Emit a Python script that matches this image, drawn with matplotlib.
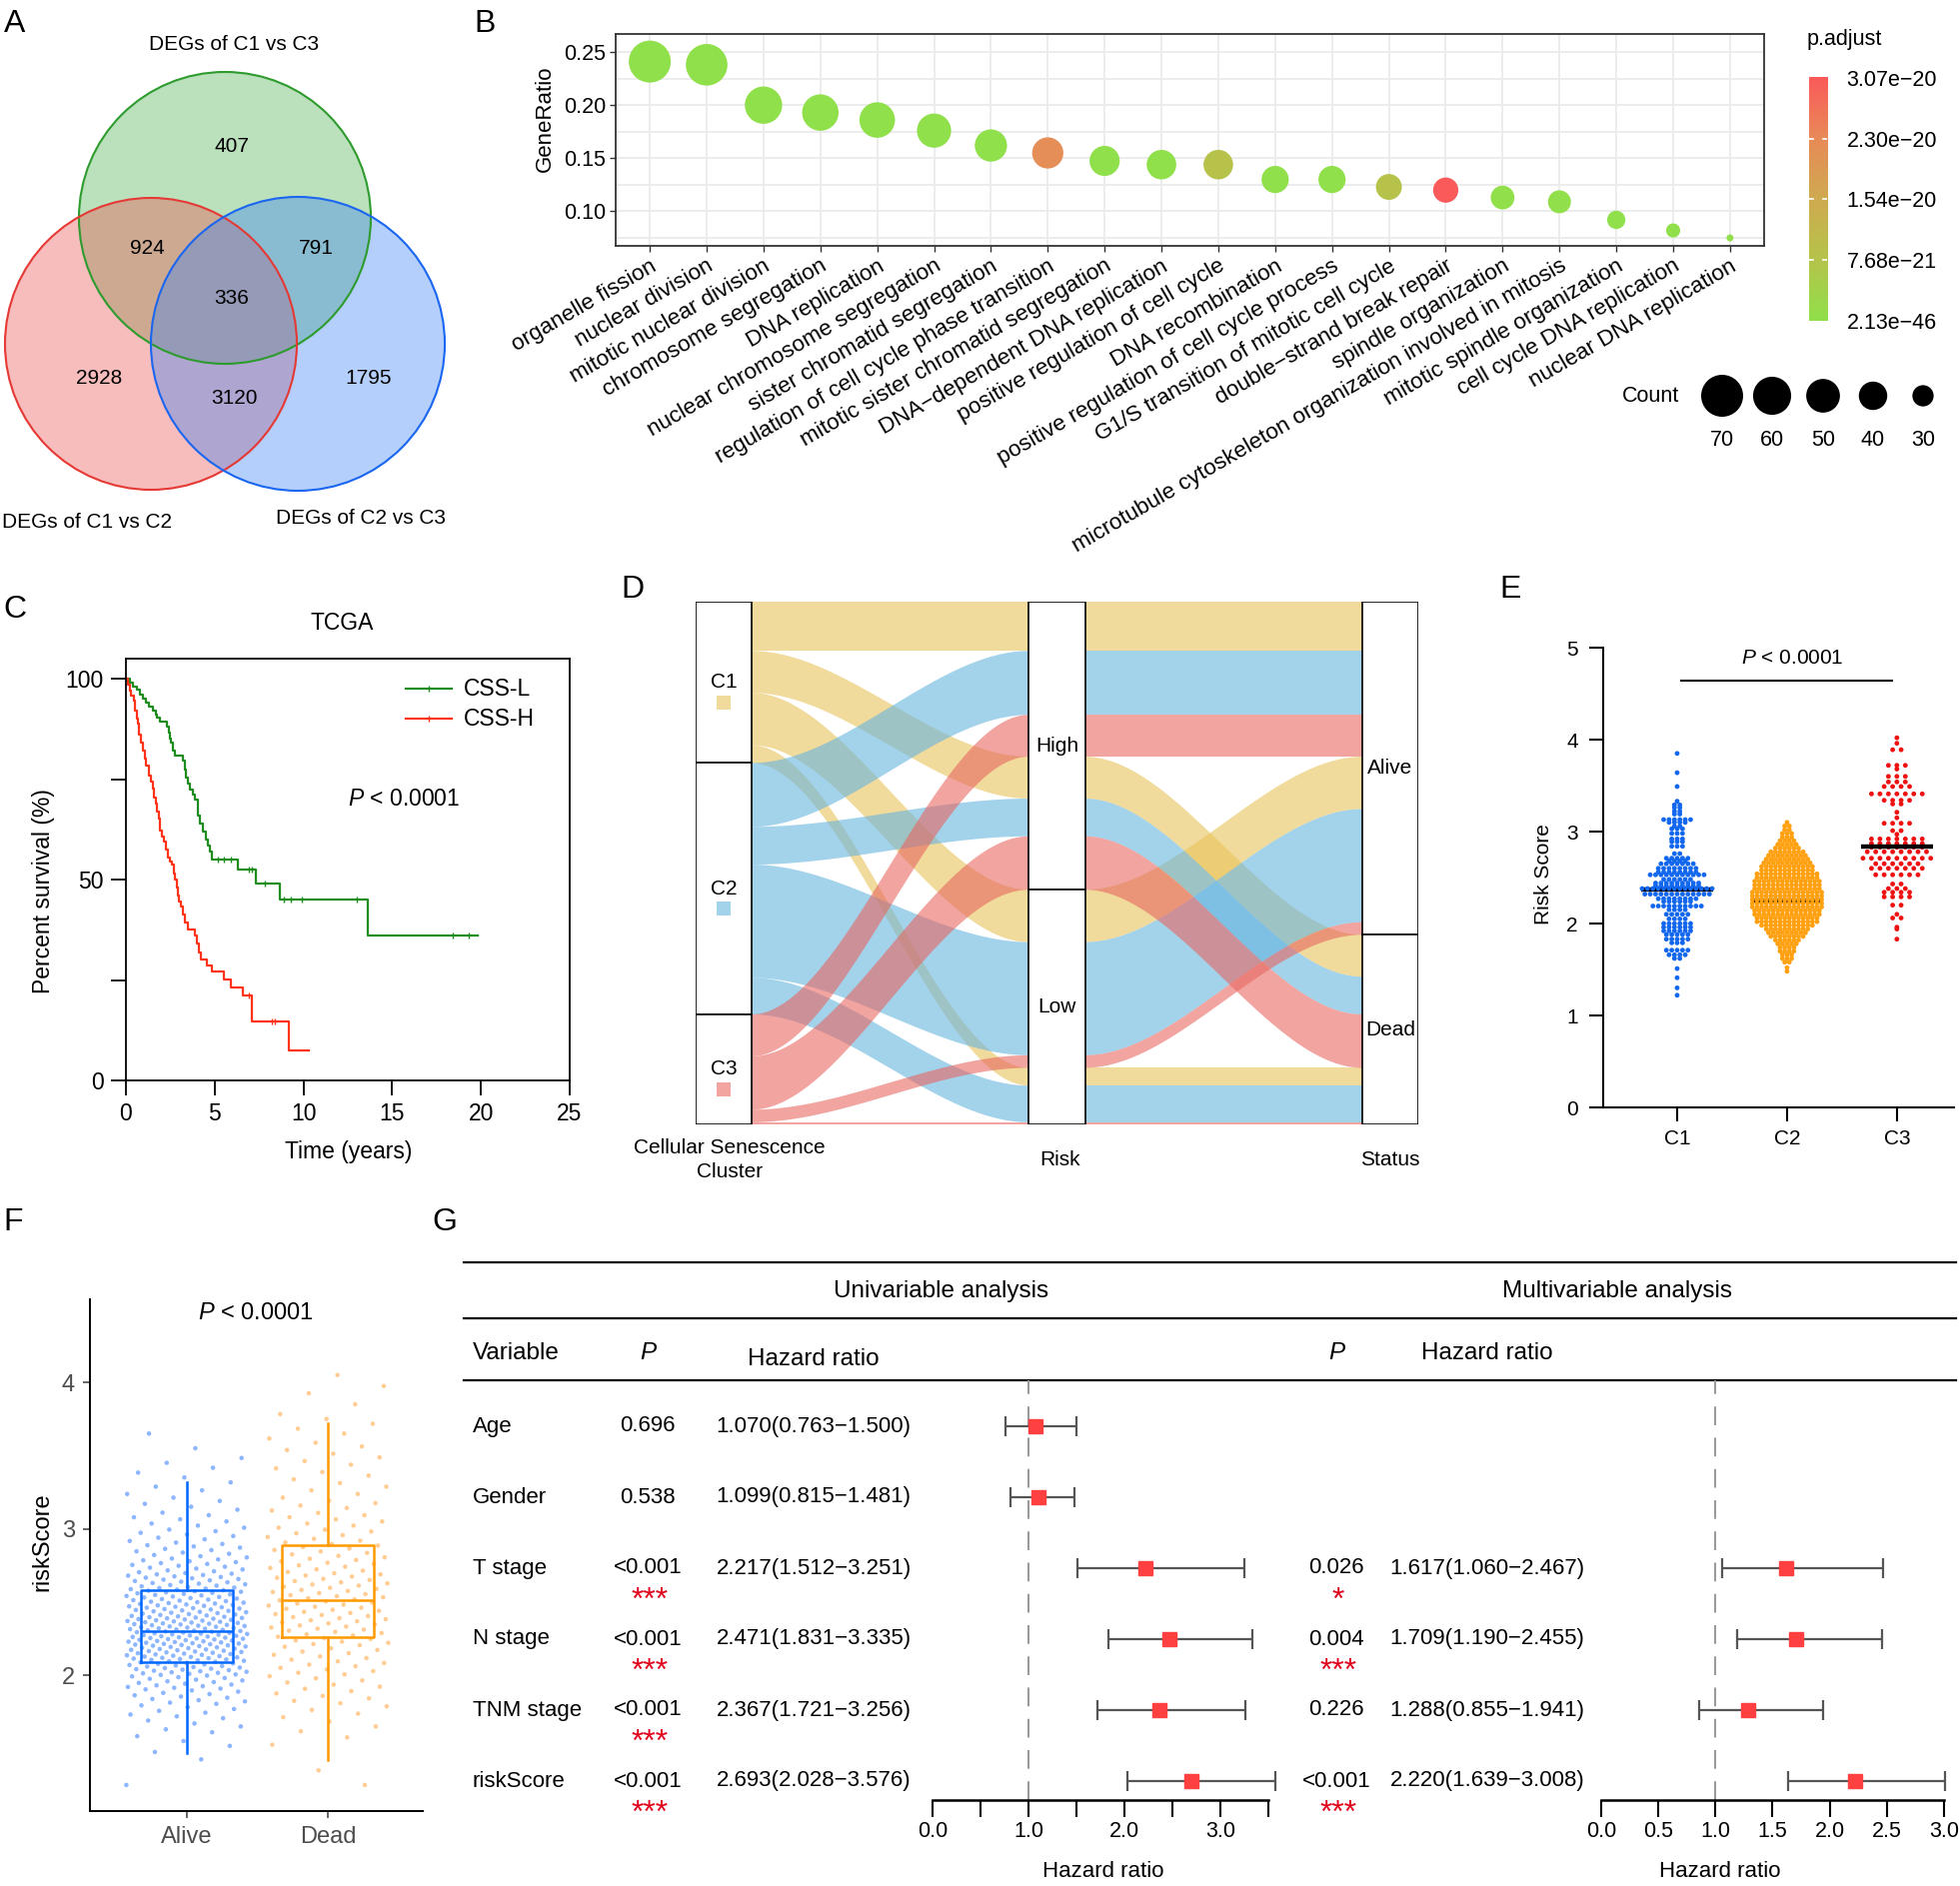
import numpy as np
import matplotlib
matplotlib.use("Agg")
import matplotlib.pyplot as plt
from matplotlib.patches import Circle, Rectangle, Polygon
from matplotlib.colors import LinearSegmentedColormap, Normalize

W, H = 1961, 1887
plt.rcParams["font.family"] = ["Liberation Sans", "DejaVu Sans"]
plt.rcParams["mathtext.fontset"] = "custom"
plt.rcParams["mathtext.rm"] = "Liberation Sans"
plt.rcParams["mathtext.it"] = "Liberation Sans:italic"
MINUS = "\u2212"

# ======================= DATA =======================
# A: Venn
venn_titles = ["DEGs of C1 vs C3", "DEGs of C1 vs C2", "DEGs of C2 vs C3"]
# regions: C13 only, C13&C12, C13&C23, all three, C12 only, C12&C23, C23 only
venn_counts = [407, 924, 791, 336, 2928, 3120, 1795]

# B: GO dot plot
go_terms = ["organelle fission", "nuclear division", "mitotic nuclear division",
            "chromosome segregation", "DNA replication", "nuclear chromosome segregation",
            "sister chromatid segregation", "regulation of cell cycle phase transition",
            "mitotic sister chromatid segregation", "DNA" + MINUS + "dependent DNA replication",
            "positive regulation of cell cycle", "DNA recombination",
            "positive regulation of cell cycle process", "G1/S transition of mitotic cell cycle",
            "double" + MINUS + "strand break repair", "spindle organization",
            "microtubule cytoskeleton organization involved in mitosis",
            "mitotic spindle organization", "cell cycle DNA replication", "nuclear DNA replication"]
go_ratio = [0.241, 0.238, 0.200, 0.193, 0.186, 0.176, 0.162, 0.155, 0.1475, 0.144,
            0.144, 0.130, 0.130, 0.123, 0.120, 0.113, 0.109, 0.092, 0.082, 0.075]
go_count = [70, 69, 58, 56, 54, 51, 47, 45, 43, 42, 42, 38, 38, 36, 35, 33, 32, 27, 24, 22]
go_padj = [2.13e-46, 5.1e-44, 3.2e-37, 1.1e-33, 4.6e-30, 2.2e-31, 8.7e-28, 2.2e-20, 1.3e-27, 4.5e-25,
           8.3e-21, 2.3e-24, 6.1e-23, 8.3e-21, 3.07e-20, 3.3e-22, 1.9e-22, 8.8e-23, 2.6e-22, 1.2e-22]
padj_ticks = [2.13e-46, 7.68e-21, 1.54e-20, 2.30e-20, 3.07e-20]
padj_labels = ["2.13e" + MINUS + "46", "7.68e" + MINUS + "21", "1.54e" + MINUS + "20",
               "2.30e" + MINUS + "20", "3.07e" + MINUS + "20"]
count_breaks = [70, 60, 50, 40, 30]

# C: Kaplan-Meier (years, percent)
km_labels = ["CSS-L", "CSS-H"]
kmL_time = [0, 0.2, 0.4, 0.6, 0.8, 0.95, 1.1, 1.3, 1.5, 1.7, 1.75, 1.9, 2.3, 2.4, 2.5, 2.55, 2.65, 2.75,
            3.2, 3.3, 3.4, 3.5, 3.6, 3.8, 3.9, 4.05, 4.15, 4.35, 4.5, 4.6, 4.75, 4.85, 6.3, 7.3, 8.66, 13.6]
kmL_surv = [100, 99.0, 98.0, 97.2, 96.0, 95.0, 94.0, 93.0, 92.0, 91.0, 90.2, 89.3, 88.0, 86.5, 85.0, 84.0,
            82.0, 80.8, 79.5, 77.5, 75.5, 74.0, 72.5, 71.2, 69.8, 66.0, 64.0, 62.0, 60.0, 58.5, 57.0, 55.1,
            52.4, 49.1, 45.1, 36.1]
kmL_end = 19.83
kmL_cens = [5.2, 5.5, 5.9, 6.9, 7.1, 7.8, 8.9, 9.3, 9.9, 13.0, 18.4, 19.3]
kmH_time = [0, 0.1, 0.2, 0.3, 0.43, 0.52, 0.6, 0.65, 0.75, 0.82, 0.97, 1.05, 1.14, 1.3, 1.4, 1.5, 1.6,
            1.68, 1.75, 1.83, 1.94, 2.05, 2.16, 2.25, 2.37, 2.5, 2.59, 2.68, 2.76, 2.85, 2.91, 3.0, 3.12,
            3.22, 3.34, 3.51, 3.88, 4.0, 4.1, 4.25, 4.55, 4.85, 5.5, 5.93, 6.57, 7.11, 9.16]
kmH_surv = [100, 98.5, 97.0, 95.8, 94.6, 92.0, 90.0, 88.9, 86.0, 84.1, 82.2, 80.0, 78.4, 76.0, 74.5, 72.7,
            70.5, 68.9, 67.0, 65.1, 62.2, 60.8, 59.4, 57.5, 55.6, 54.5, 53.7, 51.5, 49.9, 48.0, 46.1, 44.5,
            43.2, 41.2, 39.4, 37.5, 36.1, 34.0, 31.8, 30.1, 28.5, 27.0, 25.1, 23.2, 21.1, 14.8, 7.5]
kmH_end = 10.3
kmH_cens = [6.9, 8.2, 8.4]

# D: alluvial
d_axis_titles = ["Cellular Senescence\nCluster", "Risk", "Status"]
d_clusters = ["C1", "C2", "C3"]
d_risks = ["High", "Low"]
d_status = ["Alive", "Dead"]
d_all_cluster = ["C1"] * 4 + ["C2"] * 4 + ["C3"] * 4
d_all_risk = ["High", "High", "Low", "Low"] * 3
d_all_status = ["Alive", "Dead"] * 6
d_all_n = [47, 40, 50, 17, 61, 36, 108, 35, 40, 51, 12, 2]

# E: scatter dot plot (value, number of dots at that value)
e_groups = ["C1", "C2", "C3"]
e_c1_rows = [(3.85, 1), (3.64, 1), (3.49, 1), (3.33, 1), (3.29, 2), (3.26, 2), (3.22, 2), (3.19, 2),
             (3.13, 6), (3.10, 4), (3.06, 2), (3.03, 3), (2.98, 3), (2.92, 3), (2.89, 3), (2.84, 3),
             (2.76, 2), (2.71, 5), (2.68, 4), (2.65, 7), (2.60, 8), (2.56, 8), (2.53, 11), (2.48, 6),
             (2.44, 9), (2.41, 9), (2.38, 14), (2.32, 13), (2.27, 8), (2.24, 6), (2.19, 10), (2.15, 4),
             (2.10, 5), (2.05, 4), (2.00, 6), (1.96, 6), (1.92, 6), (1.88, 5), (1.83, 5), (1.79, 3),
             (1.71, 5), (1.66, 4), (1.62, 2), (1.51, 1), (1.41, 1), (1.30, 1), (1.22, 1)]
e_c2_rows = [(3.10, 1), (3.06, 2), (3.02, 2), (2.98, 3), (2.94, 3), (2.90, 4), (2.86, 5), (2.82, 6),
             (2.78, 8), (2.74, 9), (2.70, 10), (2.66, 11), (2.62, 12), (2.58, 12), (2.54, 14), (2.50, 14),
             (2.46, 15), (2.42, 15), (2.38, 15), (2.34, 16), (2.30, 16), (2.26, 16), (2.22, 16), (2.18, 16),
             (2.14, 15), (2.10, 15), (2.06, 14), (2.02, 14), (1.98, 12), (1.94, 10), (1.90, 9), (1.86, 8),
             (1.82, 6), (1.78, 5), (1.74, 4), (1.70, 4), (1.66, 3), (1.62, 3), (1.58, 2), (1.52, 1), (1.48, 1)]
e_c3_rows = [(4.02, 1), (3.96, 1), (3.89, 2), (3.72, 3), (3.68, 1), (3.60, 3), (3.54, 3), (3.49, 4),
             (3.41, 7), (3.34, 4), (3.30, 2), (3.21, 1), (3.15, 1), (3.09, 4), (3.01, 2), (2.97, 1),
             (2.92, 7), (2.87, 7), (2.83, 7), (2.78, 8), (2.71, 9), (2.65, 6), (2.60, 7), (2.53, 6),
             (2.43, 2), (2.38, 3), (2.34, 4), (2.29, 4), (2.20, 2), (2.10, 1), (2.06, 2), (1.96, 1),
             (1.94, 1), (1.83, 1)]
e_means = [2.37, 2.25, 2.84]

# F: box plot with points (counts per 0.1-wide bin, bins start at f_bin_lo)
f_groups = ["Alive", "Dead"]
f_bin_lo = [1.2, 1.3, 1.4, 1.5, 1.6, 1.7, 1.8, 1.9, 2.0, 2.1, 2.2, 2.3, 2.4, 2.5, 2.6, 2.7, 2.8, 2.9,
            3.0, 3.1, 3.2, 3.3, 3.4, 3.5, 3.6, 3.7, 3.8, 3.9, 4.0]
f_alive_n = [1, 0, 2, 3, 5, 8, 12, 18, 28, 35, 40, 38, 32, 28, 22, 16, 12, 9, 7, 5, 4, 3, 3, 1, 1, 0, 0, 0, 0]
f_dead_n = [1, 1, 0, 2, 3, 4, 6, 7, 9, 9, 12, 14, 14, 14, 13, 11, 10, 8, 7, 6, 4, 4, 4, 4, 3, 3, 1, 2, 1]
f_med = [2.30, 2.51]
f_q1 = [2.09, 2.26]
f_q3 = [2.58, 2.89]
f_wlo = [1.47, 1.42]
f_whi = [3.32, 3.72]

# G: forest tables
g_vars = ["Age", "Gender", "T stage", "N stage", "TNM stage", "riskScore"]
uni_p = ["0.696", "0.538", "<0.001", "<0.001", "<0.001", "<0.001"]
uni_sig = ["", "", "***", "***", "***", "***"]
uni_hr = [1.070, 1.099, 2.217, 2.471, 2.367, 2.693]
uni_lo = [0.763, 0.815, 1.512, 1.831, 1.721, 2.028]
uni_hi = [1.500, 1.481, 3.251, 3.335, 3.256, 3.576]
multi_vars = ["T stage", "N stage", "TNM stage", "riskScore"]
multi_p = ["0.026", "0.004", "0.226", "<0.001"]
multi_sig = ["*", "***", "", "***"]
multi_hr = [1.617, 1.709, 1.288, 2.220]
multi_lo = [1.060, 1.190, 0.855, 1.639]
multi_hi = [2.467, 2.455, 1.941, 3.008]

# ======================= FIGURE =======================
fig = plt.figure(figsize=(W / 100, H / 100), dpi=100)
ov = fig.add_axes([0, 0, 1, 1])
ov.set_xlim(0, W)
ov.set_ylim(H, 0)
ov.axis("off")


def ax_px(x0, y0, x1, y1):
    a = fig.add_axes([x0 / W, 1 - y1 / H, (x1 - x0) / W, (y1 - y0) / H])
    a.patch.set_alpha(0)
    return a


def T(x, y, s, **kw):
    kw.setdefault("ha", "center")
    kw.setdefault("va", "center")
    return ov.text(x, y, s, **kw)


def P2(d):  # pixel diameter -> scatter size (pt^2)
    return (np.asarray(d, float) * 0.72) ** 2


for lab, (x, y) in zip("ABCDEFG", [(15, 24), (485, 24), (15, 610), (633, 590), (1511, 590),
                                   (13, 1223), (445, 1223)]):
    T(x, y, lab, fontsize=23)

# ---------------- A ----------------
venn_geom = [((225, 218), 146, "#4CAF50", "#2E9B2E"),
             ((151, 344), 146, "#EB5050", "#E53935"),
             ((298, 344), 147, "#3C82F5", "#1A66F0")]
for (c, r, fc, ec) in venn_geom:
    ov.add_patch(Circle(c, r, facecolor=fc, alpha=0.38, edgecolor="none"))
for (c, r, fc, ec) in venn_geom:
    ov.add_patch(Circle(c, r, facecolor="none", edgecolor=ec, lw=1.5))
venn_pos = [(232, 146), (147, 249), (316, 249), (232, 299), (99, 378), (234, 398), (369, 378)]
for (x, y), v in zip(venn_pos, venn_counts):
    T(x, y, str(v), fontsize=15)
for (x, y), t in zip([(234, 44), (87, 522), (361, 519)], venn_titles):
    T(x, y, t, fontsize=15)

# ---------------- B ----------------
axB = ax_px(616, 34, 1765, 246)
cmap = LinearSegmentedColormap.from_list(
    "padj", [(0, "#90E04B"), (0.25, "#B5C44A"), (0.5, "#CFAA50"), (0.75, "#E88A58"), (1, "#FA5A5A")])
norm = Normalize(padj_ticks[0], padj_ticks[-1])
cmin, cmax = min(go_count), max(go_count)


def count_diam(c):
    return 7.0 * (1 + 5 * np.sqrt((np.asarray(c, float) - cmin) / (cmax - cmin)))


xB = np.arange(1, len(go_terms) + 1)
axB.scatter(xB, go_ratio, s=P2(count_diam(go_count)), c=go_padj, cmap=cmap, norm=norm,
            edgecolors="none", zorder=3)
axB.set_xlim(0.4, len(go_terms) + 0.6)
axB.set_ylim(0.0675, 0.267)
axB.set_yticks([0.10, 0.15, 0.20, 0.25])
axB.set_yticklabels(["0.10", "0.15", "0.20", "0.25"])
axB.set_yticks([0.075, 0.125, 0.175, 0.225], minor=True)
axB.set_xticks(xB)
axB.set_xticklabels(go_terms, rotation=30, ha="right", va="top", rotation_mode="anchor")
axB.grid(True, which="major", color="#EBEBEB", lw=1.3)
axB.grid(True, which="minor", axis="y", color="#EBEBEB", lw=1.3)
axB.set_axisbelow(True)
axB.tick_params(which="minor", length=0)
axB.tick_params(which="major", length=4, width=1, color="#333333", labelsize=15.5, pad=3)
axB.tick_params(axis="x", labelsize=16.2)
for sp in axB.spines.values():
    sp.set_color("#333333")
    sp.set_linewidth(1.3)
T(545, 119, "GeneRatio", rotation=90, fontsize=16)

cax = ax_px(1810, 75, 1828, 324)
grad = np.linspace(norm.vmin, norm.vmax, 256).reshape(-1, 1)
cax.imshow(grad, aspect="auto", cmap=cmap, norm=norm, origin="lower",
           extent=[0, 1, norm.vmin, norm.vmax])
rng = norm.vmax - norm.vmin
cax.set_xlim(0, 1)
cax.set_ylim(norm.vmin - 0.012 * rng, norm.vmax + 0.012 * rng)
cax.yaxis.tick_right()
cax.set_yticks(padj_ticks)
cax.set_yticklabels(padj_labels)
cax.set_xticks([])
cax.tick_params(axis="y", length=0, pad=14, labelsize=15.5)
for sp in cax.spines.values():
    sp.set_visible(False)
for t in padj_ticks[1:-1]:
    cax.plot([0, 0.22], [t, t], color="white", lw=1.2)
    cax.plot([0.78, 1], [t, t], color="white", lw=1.2)
T(1808, 39, "p.adjust", ha="left", fontsize=15.5)
T(1652, 396, "Count", fontsize=15.5)
leg_x = [1723, 1773, 1824, 1874, 1924]
ov.scatter(leg_x, [396] * len(leg_x), s=P2(count_diam(count_breaks)), color="black", edgecolors="none")
for x, c in zip(leg_x, count_breaks):
    T(x, 441, str(c), fontsize=15.5)

# ---------------- C ----------------
axC = ax_px(126, 659, 570, 1081)
km_cols = ["#1E8C1E", "#FF3319"]
for (t, s, end, cens), col in zip([(kmL_time, kmL_surv, kmL_end, kmL_cens),
                                   (kmH_time, kmH_surv, kmH_end, kmH_cens)], km_cols):
    tt = list(t) + [end]
    ss = list(s) + [s[-1]]
    axC.step(tt, ss, where="post", color=col, lw=1.6)
    idx = np.searchsorted(t, cens, side="right") - 1
    axC.plot(cens, np.asarray(s)[idx], ls="none", marker="|", ms=5, mew=1, color=col)
axC.set_xlim(0, 25)
axC.set_ylim(0, 105)
axC.set_xticks([0, 5, 10, 15, 20, 25])
axC.set_yticks([0, 50, 100])
axC.set_yticks([25, 75], minor=True)
axC.tick_params(which="both", direction="out", length=11, width=1.3, labelsize=16.5, pad=5)
for sp in axC.spines.values():
    sp.set_linewidth(1.3)
T(342, 624, "TCGA", fontsize=16.5)
T(44, 892, "Percent survival (%)", rotation=90, fontsize=16.5)
T(349, 1153, "Time (years)", fontsize=16.5)
T(404, 799, r"$\mathit{P}$ < 0.0001", fontsize=16.5)
for y, lab, col in zip([689, 719], km_labels, km_cols):
    ov.plot([406, 452], [y, y], color=col, lw=1.6)
    ov.plot([429], [y], marker="|", ms=4, mew=1, color=col)
    T(464, y, lab, ha="left", fontsize=16.5)

# ---------------- D ----------------
axD = ax_px(696, 602, 1419, 1125)
bw = 0.168
ci = [d_clusters.index(c) for c in d_all_cluster]
ri = [d_risks.index(r) for r in d_all_risk]
si = [d_status.index(s) for s in d_all_status]
nA = np.array(d_all_n, float)
Ntot = nA.sum()
axD.set_xlim(-bw / 2, 2 + bw / 2)
axD.set_ylim(Ntot, 0)
axD.axis("off")
orders = [lambda a: (ci[a], ri[a], si[a]), lambda a: (ri[a], si[a], ci[a]), lambda a: (si[a], ri[a], ci[a])]
top = np.zeros((3, len(nA)))
for k in range(3):
    y = 0.0
    for a in sorted(range(len(nA)), key=orders[k]):
        top[k, a] = y
        y += nA[a]
flow_base = {"C1": "#E9C45A", "C2": "#66B4DF", "C3": "#E86761"}
tt = np.linspace(0, 1, 100)
sm = tt * tt * (3 - 2 * tt)
for k in range(2):
    x0, x1 = k + bw / 2, k + 1 - bw / 2
    xs = x0 + (x1 - x0) * tt
    for a in range(len(nA)):
        ytop = top[k, a] + (top[k + 1, a] - top[k, a]) * sm
        ybot = ytop + nA[a]
        poly = np.column_stack([np.r_[xs, xs[::-1]], np.r_[ytop, ybot[::-1]]])
        axD.add_patch(Polygon(poly, closed=True, fc=flow_base[d_all_cluster[a]], alpha=0.6,
                              ec="none", zorder=1))
px_per = 523.0 / Ntot
for k, (names, idx) in enumerate([(d_clusters, ci), (d_risks, ri), (d_status, si)]):
    y = 0.0
    idx = np.array(idx)
    for j, name in enumerate(names):
        h = nA[idx == j].sum()
        axD.add_patch(Rectangle((k - bw / 2, y), bw, h, fc="white", ec="black", lw=1.2, zorder=3))
        cy = y + h / 2
        axD.text(k, cy, name, ha="center", va="center", fontsize=15, zorder=4)
        if k == 0:
            axD.scatter([k], [cy + 20 / px_per], marker="s", s=P2(14), color=flow_base[name],
                        alpha=0.6, edgecolors="none", zorder=4)
        y += h
T(730, 1148, "Cellular Senescence", fontsize=15)
T(730, 1173, "Cluster", fontsize=15)
T(1061, 1160, d_axis_titles[1], fontsize=15)
T(1391, 1160, d_axis_titles[2], fontsize=15)

# ---------------- E ----------------
axE = ax_px(1604, 648, 1955, 1108)
e_cols = ["#1267EE", "#FFA010", "#EE1111"]
e_dx = [0.049, 0.042, 0.077]
e_line_z = [1, 1, 3]
for g, (rows, dx, col) in enumerate(zip([e_c1_rows, e_c2_rows, e_c3_rows], e_dx, e_cols), start=1):
    xs, ys = [], []
    for v, n in rows:
        off = (np.arange(n) - (n - 1) / 2) * dx
        xs += list(g + off)
        ys += [v] * n
    axE.scatter(xs, ys, s=P2(4.8), color=col, edgecolors="none", zorder=2)
    axE.plot([g - 0.33, g + 0.33], [e_means[g - 1]] * 2, color="black", lw=3.2, zorder=e_line_z[g - 1],
             solid_capstyle="butt")
axE.set_xlim(0.327, 3.52)
axE.set_ylim(0, 5)
axE.set_xticks([1, 2, 3])
axE.set_xticklabels(e_groups)
axE.set_yticks([0, 1, 2, 3, 4, 5])
axE.spines["top"].set_visible(False)
axE.spines["right"].set_visible(False)
for sp in ["left", "bottom"]:
    axE.spines[sp].set_linewidth(1.5)
axE.tick_params(axis="y", direction="out", length=10, width=1.5, labelsize=15, pad=8)
axE.tick_params(axis="x", direction="out", length=10, width=1.5, labelsize=15, pad=6)
axE.plot([1.04, 2.96], [4.64, 4.64], color="black", lw=1.5)
axE.text(2.05, 4.89, r"$\mathit{P}$ < 0.0001", ha="center", va="center", fontsize=15)
T(1545, 875, "Risk Score", rotation=90, fontsize=15)

# ---------------- F ----------------
axF = ax_px(90, 1300, 423, 1812)
axF.set_xlim(0.312, 2.674)
axF.set_ylim(1.072, 4.567)
f_pt_cols = ["#2F7BFF", "#FFA53A"]
f_box_cols = ["#0066FF", "#FF9900"]
k = 0
for g, (counts, col) in enumerate(zip([f_alive_n, f_dead_n], f_pt_cols), start=1):
    xs, ys = [], []
    for lo, n in zip(f_bin_lo, counts):
        for j in range(n):
            ys.append(lo + (j + 0.5) / n * 0.1)
            xs.append(g + (((k * 0.6180339887) % 1.0) - 0.5) * 0.86)
            k += 1
    axF.scatter(xs, ys, s=P2(4.5), color=col, alpha=0.55, edgecolors="none", zorder=1)
stats = [dict(med=f_med[i], q1=f_q1[i], q3=f_q3[i], whislo=f_wlo[i], whishi=f_whi[i], fliers=[])
         for i in range(2)]
bp = axF.bxp(stats, positions=[1, 2], widths=0.65, showcaps=False, showfliers=False)
for i, col in enumerate(f_box_cols):
    bp["boxes"][i].set_color(col)
    bp["boxes"][i].set_linewidth(1.8)
    bp["medians"][i].set_color(col)
    bp["medians"][i].set_linewidth(1.8)
    for wl in bp["whiskers"][2 * i:2 * i + 2]:
        wl.set_color(col)
        wl.set_linewidth(1.8)
axF.set_xticks([1, 2])
axF.set_xticklabels(f_groups)
axF.set_yticks([2, 3, 4])
axF.spines["top"].set_visible(False)
axF.spines["right"].set_visible(False)
for sp in ["left", "bottom"]:
    axF.spines[sp].set_linewidth(1.4)
axF.tick_params(direction="out", length=5, width=1.2, color="#4D4D4D", labelcolor="#4D4D4D",
                labelsize=17, pad=6)
T(42, 1543, "riskScore", rotation=90, fontsize=17)
T(256, 1314, r"$\mathit{P}$ < 0.0001", fontsize=17)

# ---------------- G ----------------
for y in [1263, 1319, 1381]:
    ov.plot([464, 1957], [y, y], color="black", lw=1.6)
T(942, 1292, "Univariable analysis", fontsize=17.5)
T(1618, 1292, "Multivariable analysis", fontsize=17.5)
T(473, 1354, "Variable", ha="left", fontsize=17.5)
T(648, 1354, "P", fontsize=17.5, style="italic")
T(814, 1360, "Hazard ratio", fontsize=17.5)
T(1337, 1354, "P", fontsize=17.5, style="italic")
T(1488, 1354, "Hazard ratio", fontsize=17.5)
row_y0, row_dy = 1427, 71
for i, v in enumerate(g_vars):
    y = row_y0 + row_dy * i
    T(473, y, v, ha="left", fontsize=16)
    T(648, y, uni_p[i], fontsize=16)
    if uni_sig[i]:
        T(650, y + 33, uni_sig[i], fontsize=23, color="#E0001B")
    T(814, y, f"{uni_hr[i]:.3f}({uni_lo[i]:.3f}{MINUS}{uni_hi[i]:.3f})", fontsize=16)
for j, v in enumerate(multi_vars):
    i = g_vars.index(v)
    y = row_y0 + row_dy * i
    T(1337, y, multi_p[j], fontsize=16)
    if multi_sig[j]:
        T(1339, y + 33, multi_sig[j], fontsize=23, color="#E0001B")
    T(1488, y, f"{multi_hr[j]:.3f}({multi_lo[j]:.3f}{MINUS}{multi_hi[j]:.3f})", fontsize=16)

ylo = (1801 - row_y0) / row_dy
yhi = (1381 - row_y0) / row_dy


def forest(ax, rows, hr, lo, hi, xmax, bound, majors, minors, labels):
    ax.set_xlim(0, xmax)
    ax.set_ylim(ylo, yhi)
    ax.axvline(1.0, color="#9A9A9A", lw=1.5, ls=(0, (9, 6)), zorder=0)
    hr = np.asarray(hr)
    ax.errorbar(hr, rows, xerr=[hr - np.asarray(lo), np.asarray(hi) - hr], fmt="s", ms=10,
                mfc="#FF4040", mec="#FF4040", ecolor="#555555", elinewidth=1.6, capsize=7,
                capthick=1.6, clip_on=False, zorder=3)
    for sp in ["top", "right", "left"]:
        ax.spines[sp].set_visible(False)
    ax.spines["bottom"].set_bounds(0, bound)
    ax.spines["bottom"].set_linewidth(1.8)
    ax.set_yticks([])
    ax.set_xticks(majors)
    ax.set_xticklabels(labels)
    ax.set_xticks(minors, minor=True)
    ax.tick_params(axis="x", which="both", direction="out", length=12, width=1.5, labelsize=15.5, pad=3)


axU = ax_px(933, 1381, 933 + 3.6 * 96, 1801)
forest(axU, list(range(len(g_vars))), uni_hr, uni_lo, uni_hi, 3.6, 3.5,
       [0, 1, 2, 3], [0.5, 1.5, 2.5, 3.5], ["0.0", "1.0", "2.0", "3.0"])
axM = ax_px(1602, 1381, 1602 + 3.05 * 114.3, 1801)
forest(axM, [g_vars.index(v) for v in multi_vars], multi_hr, multi_lo, multi_hi, 3.05, 3.0,
       [0, 0.5, 1, 1.5, 2, 2.5, 3], [], ["0.0", "0.5", "1.0", "1.5", "2.0", "2.5", "3.0"])
T(1104, 1872, "Hazard ratio", fontsize=16)
T(1721, 1872, "Hazard ratio", fontsize=16)

fig.savefig("out.png", dpi=100)
